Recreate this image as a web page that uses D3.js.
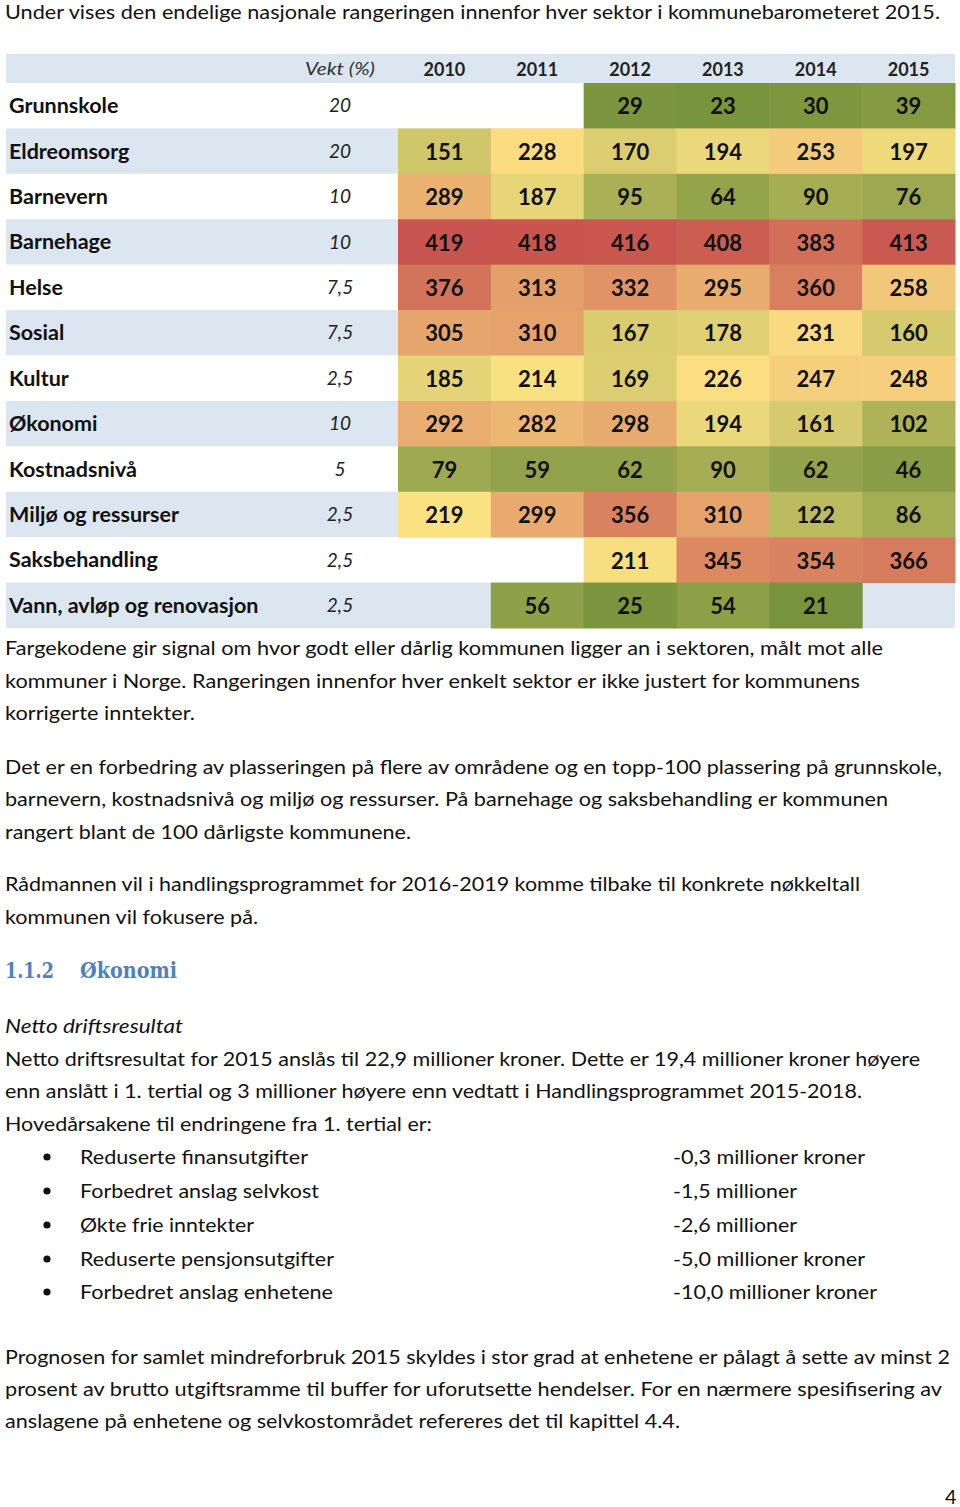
<!DOCTYPE html>
<html><head><meta charset="utf-8">
<script src="https://cdn.jsdelivr.net/npm/d3@7/dist/d3.min.js"></script>
<style>body{margin:0;background:#fff}svg{display:block}</style>
</head><body><svg id="c" width="960" height="1507"></svg>
<script>
// ---- data ----
const years = ["2010","2011","2012","2013","2014","2015"];
const sectors = ["Grunnskole","Eldreomsorg","Barnevern","Barnehage","Helse","Sosial","Kultur","Økonomi","Kostnadsnivå","Miljø og ressurser","Saksbehandling","Vann, avløp og renovasjon"];
const weights = ["20","20","10","10","7,5","7,5","2,5","10","5","2,5","2,5","2,5"];
const rGrunnskole = [null,null,29,23,30,39];
const rEldreomsorg = [151,228,170,194,253,197];
const rBarnevern = [289,187,95,64,90,76];
const rBarnehage = [419,418,416,408,383,413];
const rHelse = [376,313,332,295,360,258];
const rSosial = [305,310,167,178,231,160];
const rKultur = [185,214,169,226,247,248];
const rOkonomi = [292,282,298,194,161,102];
const rKostnad = [79,59,62,90,62,46];
const rMiljo = [219,299,356,310,122,86];
const rSaks = [null,null,211,345,354,366];
const rVann = [null,56,25,54,21,null];
const ranks = [rGrunnskole,rEldreomsorg,rBarnevern,rBarnehage,rHelse,rSosial,rKultur,rOkonomi,rKostnad,rMiljo,rSaks,rVann];

const intro = "Under vises den endelige nasjonale rangeringen innenfor hver sektor i kommunebarometeret 2015.";
const para1 = ["Fargekodene gir signal om hvor godt eller dårlig kommunen ligger an i sektoren, målt mot alle","kommuner i Norge. Rangeringen innenfor hver enkelt sektor er ikke justert for kommunens","korrigerte inntekter."];
const para2 = ["Det er en forbedring av plasseringen på flere av områdene og en topp-100 plassering på grunnskole,","barnevern, kostnadsnivå og miljø og ressurser. På barnehage og saksbehandling er kommunen","rangert blant de 100 dårligste kommunene."];
const para3 = ["Rådmannen vil i handlingsprogrammet for 2016-2019 komme tilbake til konkrete nøkkeltall","kommunen vil fokusere på."];
const headingNum = "1.1.2", headingText = "Økonomi";
const subHeading = "Netto driftsresultat";
const para4 = ["Netto driftsresultat for 2015 anslås til 22,9 millioner kroner. Dette er 19,4 millioner kroner høyere","enn anslått i 1. tertial og 3 millioner høyere enn vedtatt i Handlingsprogrammet 2015-2018.","Hovedårsakene til endringene fra 1. tertial er:"];
const bulletItems = ["Reduserte finansutgifter","Forbedret anslag selvkost","Økte frie inntekter","Reduserte pensjonsutgifter","Forbedret anslag enhetene"];
const bulletValues = ["-0,3 millioner kroner","-1,5 millioner","-2,6 millioner","-5,0 millioner kroner","-10,0 millioner kroner"];
const para5 = ["Prognosen for samlet mindreforbruk 2015 skyldes i stor grad at enhetene er pålagt å sette av minst 2","prosent av brutto utgiftsramme til buffer for uforutsette hendelser. For en nærmere spesifisering av","anslagene på enhetene og selvkostområdet refereres det til kapittel 4.4."];
const pageNo = "4";

// ---- drawing ----
const svg = d3.select("#c");
svg.append("rect").attr("width",960).attr("height",1507).attr("fill","#fff");
const FONT = "Lato, 'Open Sans', sans-serif";

function line(txt, x, y, end, opts={}) {
  const t = svg.append("text").attr("x",x).attr("y",y).text(txt)
    .attr("font-family",opts.family||FONT).attr("font-size",opts.size||20)
    .attr("fill",opts.fill||"#111");
  if (opts.weight) t.attr("font-weight",opts.weight);
  if (opts.style) t.attr("font-style",opts.style);
  if (opts.anchor) t.attr("text-anchor",opts.anchor);
  if (end!=null) t.attr("textLength",end-x).attr("lengthAdjust","spacingAndGlyphs");
  return t;
}

line(intro,5,19,940,{size:19});

// table
const tableL = 6, tableR = 955, headTop = 54, headBot = 83, tableBot = 628;
const y = d3.scaleBand().domain(sectors).range([headBot, tableBot]);
const x = d3.scaleBand().domain(years).range([398, tableR]);
const color = d3.scaleLinear().domain([21,220,419]).range(["#77933c","#fde283","#c8554f"]).interpolate(d3.interpolateRgb).clamp(true);
const blue = "#dce6f1";

svg.append("rect").attr("x",tableL).attr("y",headTop).attr("width",tableR-tableL).attr("height",headBot-headTop).attr("fill",blue);
svg.selectAll("rect.row").data(sectors).join("rect").attr("class","row")
  .attr("x",tableL).attr("y",d=>y(d)).attr("width",tableR-tableL).attr("height",y.bandwidth())
  .attr("fill",(d,i)=>i%2?blue:"#fff");

const cells = [];
sectors.forEach((s,i)=>ranks[i].forEach((v,j)=>{ if(v!=null) cells.push({s,yr:years[j],v}); }));
svg.selectAll("rect.cell").data(cells).join("rect").attr("class","cell")
  .attr("x",d=>x(d.yr)).attr("y",d=>y(d.s)).attr("width",x.bandwidth()+0.5).attr("height",y.bandwidth()+0.5)
  .attr("fill",d=>color(d.v));
svg.selectAll("text.cell").data(cells).join("text").attr("class","cell")
  .attr("x",d=>x(d.yr)+x.bandwidth()/2).attr("y",d=>y(d.s)+y.bandwidth()/2+1).attr("dy","0.35em")
  .attr("text-anchor","middle").attr("font-family",FONT).attr("font-weight","bold").attr("font-size",22)
  .attr("fill","#111").text(d=>d.v);

// header
svg.selectAll("text.yr").data(years).join("text").attr("class","yr")
  .attr("x",d=>x(d)+x.bandwidth()/2).attr("y",(headTop+headBot)/2+1).attr("dy","0.35em")
  .attr("text-anchor","middle").attr("font-family",FONT).attr("font-weight","bold").attr("font-size",18)
  .attr("fill","#222").text(d=>d);
line("Vekt (%)",305,75,375,{style:"italic",size:18,fill:"#333"});

// labels & weights
svg.selectAll("text.lab").data(sectors).join("text").attr("class","lab")
  .attr("x",9).attr("y",d=>y(d)+y.bandwidth()/2).attr("dy","0.35em")
  .attr("font-family",FONT).attr("font-weight","bold").attr("font-size",21.5).attr("fill","#111").text(d=>d);
svg.selectAll("text.w").data(sectors).join("text").attr("class","w")
  .attr("x",340).attr("y",d=>y(d)+y.bandwidth()/2).attr("dy","0.35em").attr("text-anchor","middle")
  .attr("font-family",FONT).attr("font-style","italic").attr("font-size",19).attr("fill","#222")
  .text((d,i)=>weights[i]);

// paragraphs
const p1End=[883,860,195], p1Y=[655,688,720];
para1.forEach((t,i)=>line(t,5,p1Y[i],p1End[i]));
const p2End=[942,888,411], p2Y=[774,806,839];
para2.forEach((t,i)=>line(t,5,p2Y[i],p2End[i]));
const p3End=[860,258], p3Y=[891,924];
para3.forEach((t,i)=>line(t,5,p3Y[i],p3End[i]));

line(headingNum,5,978,54,{family:"'DejaVu Serif', 'Liberation Serif', serif",weight:"bold",size:22,fill:"#4f81bd"});
line(headingText,80,978,177,{family:"'DejaVu Serif', 'Liberation Serif', serif",weight:"bold",size:22,fill:"#4f81bd"});
line(subHeading,5,1033,183,{style:"italic"});

const p4End=[920,862,432], p4Y=[1066,1098,1131];
para4.forEach((t,i)=>line(t,5,p4Y[i],p4End[i]));

const bY=[1164,1198,1232,1266,1299], bEnd=[308,319,254,334,333], vEnd=[865,797,797,865,877];
bulletItems.forEach((t,i)=>{
  svg.append("circle").attr("cx",47).attr("cy",bY[i]-7).attr("r",3.6).attr("fill","#111");
  line(t,80,bY[i],bEnd[i]);
  line(bulletValues[i],673,bY[i],vEnd[i]);
});

const p5End=[950,942,680], p5Y=[1364,1396,1428];
para5.forEach((t,i)=>line(t,5,p5Y[i],p5End[i]));

line(pageNo,945,1504,null);
</script></body></html>
